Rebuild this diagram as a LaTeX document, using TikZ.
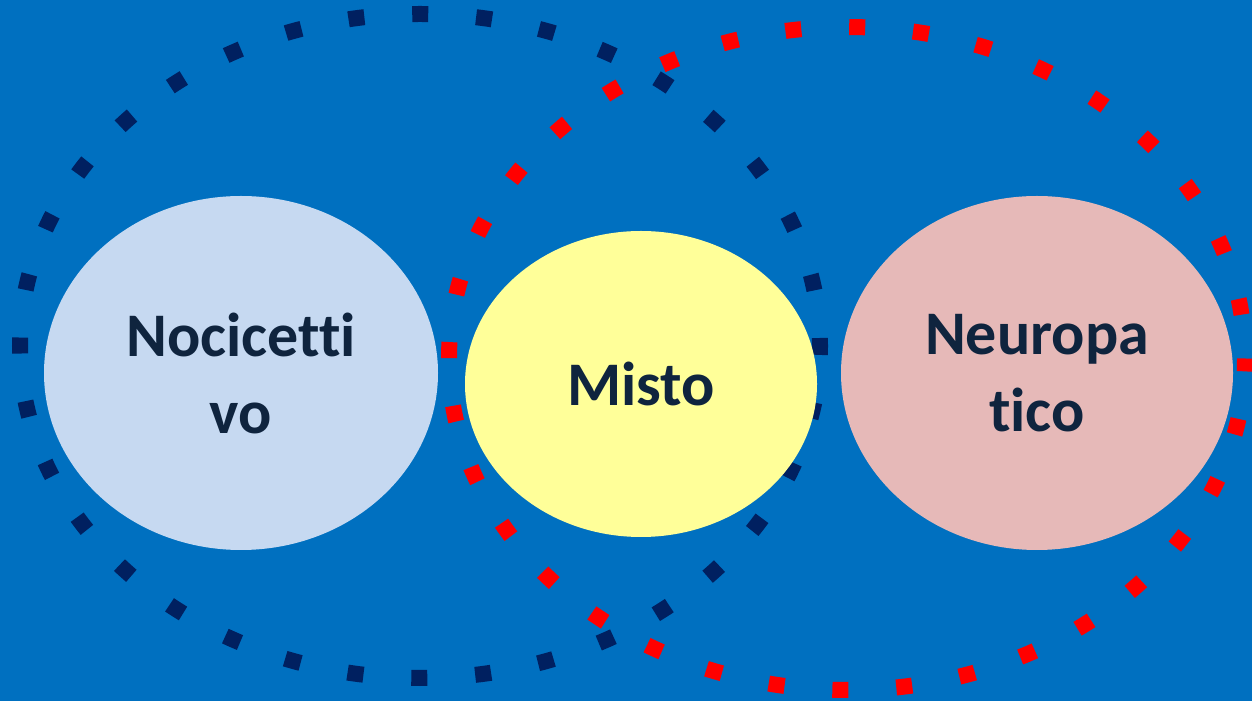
\documentclass[tikz,border=0pt]{standalone}
\usepackage{fontspec}
\setmainfont{Carlito}[Ligatures={NoCommon}]
\usetikzlibrary{shapes.geometric}
\definecolor{bgblue}{HTML}{0070C0}
\definecolor{navy}{HTML}{002060}
\definecolor{dotred}{HTML}{FF0000}
\definecolor{lblue}{HTML}{C6D9F1}
\definecolor{lyellow}{HTML}{FFFF99}
\definecolor{lpink}{HTML}{E6B9B8}
\definecolor{txt}{HTML}{0F243E}
\tikzset{
  dotring/.style={line width=16pt, dash pattern=on 16pt off 48pt, line cap=butt},
  blob/.style={ellipse, draw=none, inner sep=0pt, align=center, text=txt,
    font=\bfseries\fontsize{62}{77}\selectfont},
}
\begin{document}
\begin{tikzpicture}[x=1pt,y=1pt]
\fill[bgblue] (0,0) rectangle (1252,701);
\useasboundingbox (0,0) rectangle (1252,701);
% dotted rings
\draw[dotring, navy, dash phase=8pt] (420,355) ellipse [x radius=400, y radius=332];
\draw[dotring, dotred, dash phase=20pt] (847,342.5) ellipse [x radius=398, y radius=331.5];
% filled ellipses
\node[blob, fill=lblue, minimum width=394pt, minimum height=354pt] (noc) at (241,328) {Nocicetti\\vo};
\node[blob, fill=lyellow, minimum width=352pt, minimum height=306pt] (mis) at (641,317) {Misto};
\node[blob, fill=lpink, minimum width=392pt, minimum height=354pt] (neu) at (1037,328) {Neuropa\\tico};
\end{tikzpicture}
\end{document}
